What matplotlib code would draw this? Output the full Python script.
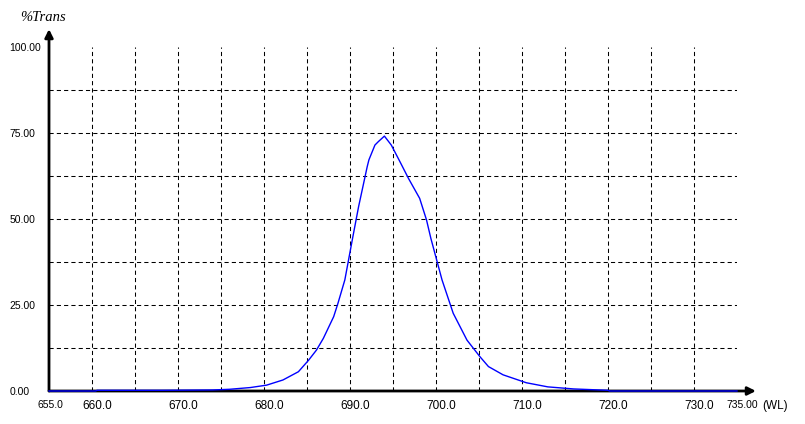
import matplotlib
matplotlib.use("Agg")
import matplotlib.pyplot as plt

# Spectre de transmission
wl = [655.0, 660.4, 660.6, 668.0, 674.0, 676.0, 678.4, 680.3, 682.2, 684.0, 685.2,
      686.1, 686.9, 688.1, 688.6, 689.4, 690.3, 691.0, 692.0, 692.2, 692.9, 693.3,
      694.0, 694.8, 695.8, 696.8, 698.1, 698.9, 699.4, 700.7, 702.0, 703.6, 705.1,
      706.1, 707.8, 710.5, 713.0, 716.0, 720.0, 720.2, 735.0]
trans = [0.0, 0.0, 0.2, 0.2, 0.3, 0.5, 1.0, 1.7, 3.2, 5.6, 9.0,
         11.9, 15.3, 21.6, 25.5, 32.3, 44.4, 53.6, 65.2, 67.2, 71.5, 72.5,
         74.1, 71.5, 66.7, 61.8, 56.0, 49.7, 44.4, 32.3, 22.6, 14.8, 10.0,
         7.1, 4.7, 2.4, 1.2, 0.6, 0.2, 0.0, 0.0]

xticks = [660, 670, 680, 690, 700, 710, 720, 730]
xtick_labels = ["660.0", "670.0", "680.0", "690.0", "700.0", "710.0", "720.0", "730.0"]
yticks = [0, 25, 50, 75, 100]
ytick_labels = ["0.00", "25.00", "50.00", "75.00", "100.00"]

fig = plt.figure(figsize=(8.05, 4.24), dpi=100, facecolor="w")
ax = fig.add_axes([49 / 805, 33 / 424, 688 / 805, 344 / 424])
ax.set_xlim(655, 735)
ax.set_ylim(0, 100)
for s in ax.spines.values():
    s.set_visible(False)
ax.set_xticks([])
ax.set_yticks([])

# Grille
grid_kw = dict(color="black", lw=0.75, ls=(0, (4, 3)), zorder=1)
for x in range(660, 735, 5):
    ax.plot([x, x], [0, 100], **grid_kw)
for y in [12.5, 25, 37.5, 50, 62.5, 75, 87.5]:
    ax.plot([655, 735], [y, y], **grid_kw)

# Axes avec fleches
ax.annotate("", xy=(737.2, 0), xytext=(655, 0), xycoords="data",
            arrowprops=dict(arrowstyle="-|>", color="black", lw=2,
                            mutation_scale=12, shrinkA=0, shrinkB=0),
            annotation_clip=False, zorder=3)
ax.annotate("", xy=(655, 105.2), xytext=(655, 0), xycoords="data",
            arrowprops=dict(arrowstyle="-|>", color="black", lw=2,
                            mutation_scale=12, shrinkA=0, shrinkB=0),
            annotation_clip=False, zorder=3)

# Courbe
ax.plot(wl, trans, color="#0000ff", lw=1, zorder=4, clip_on=False)

# Etiquettes
font = "Liberation Sans"
for x, lab in zip(xticks, xtick_labels):
    ax.text(x - 1.16, -2.6, lab, ha="left", va="top", fontsize=8.5, family=font)
ax.text(653.7, -2.6, "655.0", ha="left", va="top", fontsize=7.5, family=font)
ax.text(733.8, -2.6, "735.00", ha="left", va="top", fontsize=7.5, family=font)
ax.text(737.9, -2.6, "(WL)", ha="left", va="top", fontsize=8.5, family=font)
for y, lab in zip(yticks, ytick_labels):
    ax.text(650.4, y - 0.3, lab, ha="left", va="center", fontsize=7.5, family=font)
ax.text(654.3, 108.7, "%Trans", ha="center", va="center", fontsize=10.5,
        family="Liberation Serif", style="italic")

fig.savefig("out.png", dpi=100)
